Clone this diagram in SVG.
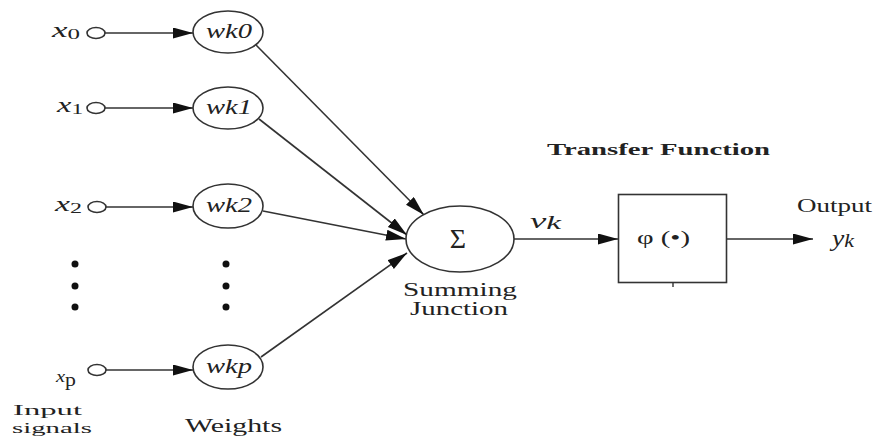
<svg xmlns="http://www.w3.org/2000/svg" width="879" height="441" viewBox="0 0 879 441">
  <style>
    text { font-family: "Liberation Serif", "Times New Roman", serif; fill: #222; }
    .it { font-style: italic; }
    .node { fill: #fff; stroke: #333; stroke-width: 1.6; }
    .port { fill: #fff; stroke: #333; stroke-width: 1.6; }
    .edge { stroke: #333; stroke-width: 1.6; fill: none; marker-end: url(#head); }
    .dot { fill: #111; }
  </style>
  <defs>
    <marker id="head" markerUnits="userSpaceOnUse" markerWidth="22" markerHeight="12" refX="20" refY="5.5" orient="auto">
      <path d="M0,0 L20,5.5 L0,11 z" fill="#111"/>
    </marker>
  </defs>
  <rect width="879" height="441" fill="#fff"/>

  <!-- connectors -->
  <g id="connectors">
    <line class="edge" x1="105" y1="33" x2="193" y2="33"/>
    <line class="edge" x1="105" y1="108" x2="193" y2="108"/>
    <line class="edge" x1="106" y1="207" x2="193" y2="207"/>
    <line class="edge" x1="106" y1="370" x2="193" y2="370"/>
    <line class="edge" x1="256" y1="45" x2="424" y2="215"/>
    <line class="edge" x1="259" y1="119" x2="407" y2="235"/>
    <line class="edge" x1="263" y1="211" x2="406" y2="239"/>
    <line class="edge" x1="261" y1="357" x2="407" y2="253"/>
    <line class="edge" x1="514" y1="239" x2="618" y2="239"/>
    <line class="edge" x1="726" y1="239" x2="813" y2="239"/>
  </g>

  <!-- inputs -->
  <g id="input-x0">
    <text x="52" y="37" class="it" font-size="21" textLength="28" lengthAdjust="spacingAndGlyphs">x<tspan font-size="15" font-style="normal" dy="2">0</tspan></text>
    <ellipse class="port" cx="96" cy="33" rx="9" ry="5.5"/>
  </g>
  <g id="input-x1">
    <text x="57" y="112" class="it" font-size="21" textLength="26" lengthAdjust="spacingAndGlyphs">x<tspan font-size="15" font-style="normal" dy="2">1</tspan></text>
    <ellipse class="port" cx="96" cy="108" rx="9" ry="5.5"/>
  </g>
  <g id="input-x2">
    <text x="55" y="211" class="it" font-size="21" textLength="27" lengthAdjust="spacingAndGlyphs">x<tspan font-size="15" font-style="normal" dy="2">2</tspan></text>
    <ellipse class="port" cx="97" cy="207" rx="9" ry="5.5"/>
  </g>
  <g id="input-xp">
    <text x="56" y="382" class="it" font-size="17" textLength="20" lengthAdjust="spacingAndGlyphs">x<tspan font-size="18" font-style="normal" dy="4">p</tspan></text>
    <ellipse class="port" cx="97" cy="370" rx="9" ry="5.5"/>
  </g>
  <g id="input-dots">
    <circle class="dot" cx="75" cy="264" r="3.5"/>
    <circle class="dot" cx="75" cy="286" r="3.5"/>
    <circle class="dot" cx="75" cy="307" r="3.5"/>
  </g>
  <g id="input-label">
    <text x="13" y="415" font-size="15" textLength="69" lengthAdjust="spacingAndGlyphs">Input</text>
    <text x="12" y="433" font-size="15" textLength="80" lengthAdjust="spacingAndGlyphs">signals</text>
  </g>

  <!-- weights -->
  <g id="weight-wk0">
    <ellipse class="node" cx="228" cy="32" rx="35" ry="21"/>
    <text x="206" y="38" class="it" font-size="20" textLength="46" lengthAdjust="spacingAndGlyphs">wk0</text>
  </g>
  <g id="weight-wk1">
    <ellipse class="node" cx="228" cy="108" rx="35" ry="21"/>
    <text x="206" y="114" class="it" font-size="20" textLength="46" lengthAdjust="spacingAndGlyphs">wk1</text>
  </g>
  <g id="weight-wk2">
    <ellipse class="node" cx="228" cy="206" rx="35" ry="22"/>
    <text x="206" y="212" class="it" font-size="20" textLength="46" lengthAdjust="spacingAndGlyphs">wk2</text>
  </g>
  <g id="weight-wkp">
    <ellipse class="node" cx="228" cy="367" rx="35" ry="22"/>
    <text x="206" y="373" class="it" font-size="20" textLength="46" lengthAdjust="spacingAndGlyphs">wkp</text>
  </g>
  <g id="weight-dots">
    <circle class="dot" cx="226" cy="264" r="3.5"/>
    <circle class="dot" cx="226" cy="286" r="3.5"/>
    <circle class="dot" cx="226" cy="307" r="3.5"/>
  </g>
  <g id="weight-label">
    <text x="185" y="432" font-size="18" textLength="97" lengthAdjust="spacingAndGlyphs">Weights</text>
  </g>

  <!-- summing junction -->
  <g id="summing-junction">
    <ellipse class="node" cx="460" cy="239" rx="54" ry="33"/>
    <text x="458" y="248" font-size="28" text-anchor="middle">Σ</text>
    <text x="403" y="296" font-size="18" textLength="114" lengthAdjust="spacingAndGlyphs">Summing</text>
    <text x="410" y="315" font-size="18" textLength="98" lengthAdjust="spacingAndGlyphs">Junction</text>
    <text x="530" y="228" class="it" font-size="21" textLength="31" lengthAdjust="spacingAndGlyphs">v<tspan font-size="19" dy="1">k</tspan></text>
  </g>

  <!-- transfer function -->
  <g id="transfer-function">
    <text x="547" y="155" font-size="17" font-weight="bold" textLength="223" lengthAdjust="spacingAndGlyphs">Transfer Function</text>
    <rect class="node" x="618.5" y="194.5" width="108" height="88"/>
    <line x1="673" y1="282" x2="673" y2="287" stroke="#333" stroke-width="1.4"/>
    <text x="637" y="244" font-size="18" textLength="53" lengthAdjust="spacingAndGlyphs">φ (•)</text>
  </g>

  <!-- output -->
  <g id="output">
    <text x="797" y="212" font-size="18" textLength="75" lengthAdjust="spacingAndGlyphs">Output</text>
    <text x="832" y="246" class="it" font-size="24" textLength="22" lengthAdjust="spacingAndGlyphs">y<tspan font-size="19" dy="1">k</tspan></text>
  </g>
</svg>
